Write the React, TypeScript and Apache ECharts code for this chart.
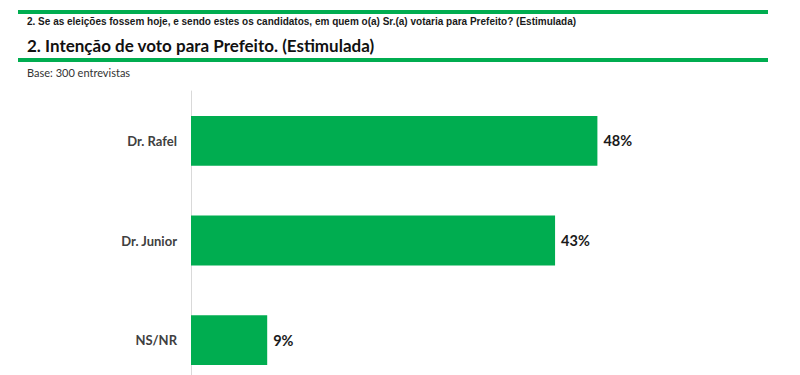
import React, { useEffect, useRef } from "react";
import * as echarts from "echarts";

const categories = ["Dr. Rafel", "Dr. Junior", "NS/NR"];
const values = [48, 43, 9];
const questionText =
  "2. Se as eleições fossem hoje, e sendo estes os candidatos, em quem o(a) Sr.(a) votaria para Prefeito? (Estimulada)";
const titleText = "2. Intenção de voto para Prefeito. (Estimulada)";
const baseText = "Base: 300 entrevistas";

const GREEN = "#00AD50";

export default function App() {
  const ref = useRef<HTMLDivElement>(null);
  useEffect(() => {
    if (!ref.current) return;
    const chart = echarts.init(ref.current, null, { renderer: "svg" });
    chart.setOption({
      animation: false,
      backgroundColor: "#ffffff",
      grid: { left: 191, top: 91, height: 299, width: 508, outerBoundsMode: "none", containLabel: false },
      xAxis: { type: "value", min: 0, max: 60, show: false },
      yAxis: {
        type: "category",
        data: categories,
        inverse: true,
        axisLine: { show: true, lineStyle: { color: "#d9d9d9", width: 1 } },
        axisTick: { show: false },
        axisLabel: {
          margin: 14,
          fontFamily: "Lato",
          fontWeight: "bold",
          fontSize: 13,
          color: "#404040",
        },
      },
      series: [
        {
          type: "bar",
          data: values,
          barWidth: "50%",
          itemStyle: { color: GREEN },
          label: {
            show: true,
            position: "right",
            distance: 6,
            formatter: "{c}%",
            fontFamily: "Lato",
            fontWeight: "bold",
            fontSize: 14.5,
            color: "#1a1a1a",
          },
        },
      ],
      graphic: [
        { type: "rect", shape: { x: 18, y: 10, width: 750, height: 4 }, style: { fill: GREEN } },
        {
          type: "text",
          x: 27,
          y: 21,
          style: {
            text: questionText,
            fontFamily: "Liberation Sans Narrow, Liberation Sans",
            fontWeight: "bold",
            fontSize: 10,
            fill: "#1a1a1a",
            verticalAlign: "middle",
          },
        },
        {
          type: "text",
          x: 27,
          y: 45,
          style: {
            text: titleText,
            fontFamily: "Lato",
            fontWeight: "bold",
            fontSize: 17,
            fill: "#111111",
            verticalAlign: "middle",
          },
        },
        { type: "rect", shape: { x: 18, y: 58, width: 750, height: 4 }, style: { fill: GREEN } },
        {
          type: "text",
          x: 27,
          y: 72,
          style: {
            text: baseText,
            fontFamily: "Lato",
            fontSize: 11,
            fill: "#333333",
            verticalAlign: "middle",
          },
        },
      ],
    });
    return () => chart.dispose();
  }, []);
  return (
    <div
      ref={ref}
      style={{ position: "fixed", left: 0, top: 0, width: 800, height: 375 }}
    />
  );
}
